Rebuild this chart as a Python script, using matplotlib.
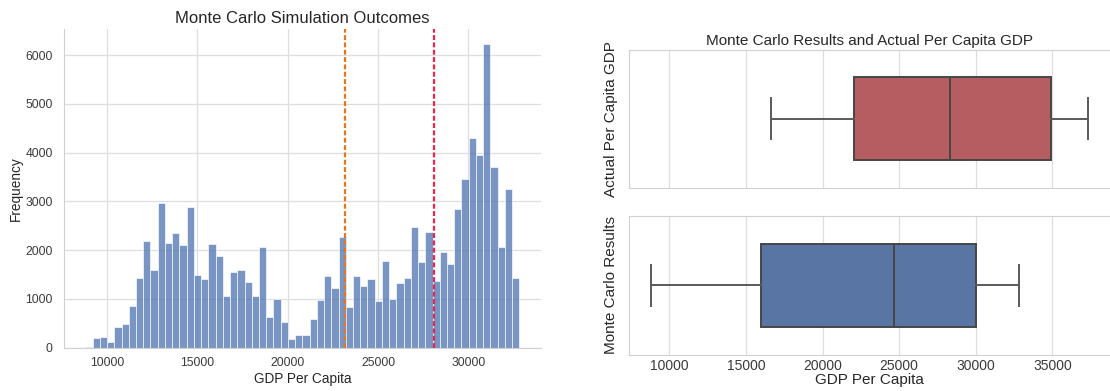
import numpy as np
import matplotlib.pyplot as plt

plt.rcParams['font.family'] = ['Liberation Sans', 'DejaVu Sans']

# histogram of the simulated GDP per capita (60 bins)
bin_start = 8800
bin_end = 32820
counts = [10, 200, 210, 110, 420, 480, 860, 1420, 2190, 1600,
          2960, 2140, 2360, 2100, 2880, 1500, 1400, 2130, 1890, 1070,
          1550, 1600, 1340, 1060, 2070, 630, 990, 520, 170, 260,
          260, 590, 980, 1480, 1220, 2280, 840, 1480, 1260, 1410,
          950, 1780, 990, 1320, 1440, 2470, 1750, 2380, 1370, 1960,
          1710, 2850, 3460, 4310, 3950, 6230, 3700, 2070, 3250, 1420]
sim_mean = 23160
actual_value = 28100

# box plot summaries: whisker low, q1, median, q3, whisker high
actual_stats = [16630, 22020, 28300, 34890, 37330]
sim_stats = [8800, 15980, 24670, 30000, 32800]

text_col = '#262626'
grid_col = '#dedede'
spine_col = '#d0d0d0'

fig = plt.figure(figsize=(11.1, 3.91), dpi=100)

# ---- left: histogram
ax = fig.add_axes([0.0574, 0.1107, 0.430, 0.8156])
edges = np.linspace(bin_start, bin_end, len(counts) + 1)
ax.bar(edges[:-1], counts, width=np.diff(edges), align='edge',
       color='#4c72b0', alpha=0.75, edgecolor='white', linewidth=0.6, zorder=2)
ax.axvline(sim_mean, color='#e5761c', linestyle=(0, (2.2, 1.1)), linewidth=1.6, zorder=3)
ax.axvline(actual_value, color='#e6264a', linestyle=(0, (2.2, 1.1)), linewidth=1.6, zorder=3)
ax.set_title('Monte Carlo Simulation Outcomes', fontsize=12, color=text_col, pad=4)
ax.set_xlabel('GDP Per Capita', fontsize=9.8, color=text_col, labelpad=2)
ax.set_ylabel('Frequency', fontsize=9.8, color=text_col, labelpad=2)
ax.set_xticks([10000, 15000, 20000, 25000, 30000])
ax.set_yticks([0, 1000, 2000, 3000, 4000, 5000, 6000])
ax.tick_params(axis='both', length=0, labelsize=8.7, labelcolor='#3a3a3a')
ax.tick_params(axis='y', pad=8)
ax.tick_params(axis='x', pad=7)
ax.grid(True, color=grid_col, linewidth=0.9, zorder=0)
ax.set_axisbelow(True)
for s in ['top', 'right']:
    ax.spines[s].set_visible(False)
for s in ['left', 'bottom']:
    ax.spines[s].set_color(spine_col)

# ---- right: two box plots sharing the x axis
ax_top = fig.add_axes([0.5667, 0.5197, 0.4333, 0.3535])
ax_bot = fig.add_axes([0.5667, 0.0921, 0.4333, 0.356], sharex=ax_top)


def draw_box(a, st, color):
    stats = [dict(whislo=st[0], q1=st[1], med=st[2], q3=st[3], whishi=st[4], fliers=[])]
    a.bxp(stats, positions=[0], widths=0.6, vert=False, patch_artist=True,
          boxprops=dict(facecolor=color, edgecolor='#464646', linewidth=1.4),
          medianprops=dict(color='#464646', linewidth=1.4),
          whiskerprops=dict(color='#5a5a5a', linewidth=1.4),
          capprops=dict(color='#5a5a5a', linewidth=1.4),
          capwidths=0.3, zorder=2)
    a.set_ylim(-0.5, 0.5)
    a.set_yticks([])
    a.grid(True, axis='x', color=grid_col, linewidth=0.9, zorder=0)
    a.set_axisbelow(True)
    a.spines['right'].set_visible(False)
    for s in ['top', 'left', 'bottom']:
        a.spines[s].set_color(spine_col)
    a.tick_params(axis='x', length=0, labelsize=10, labelcolor='#3a3a3a', pad=3)


draw_box(ax_top, actual_stats, '#b55d60')
draw_box(ax_bot, sim_stats, '#5975a4')
ax_top.margins(x=0.05)
ax_top.set_xticks([10000, 15000, 20000, 25000, 30000, 35000])
ax_top.tick_params(axis='x', labelbottom=False)
ax_top.set_title('Monte Carlo Results and Actual Per Capita GDP', fontsize=11,
                 color=text_col, pad=3)
ax_top.set_ylabel('Actual Per Capita GDP', fontsize=11, color=text_col, labelpad=8)
ax_bot.set_ylabel('Monte Carlo Results', fontsize=11, color=text_col, labelpad=8)
ax_bot.set_xlabel('GDP Per Capita', fontsize=11, color=text_col, labelpad=0)

plt.savefig('out.png', dpi=100)
